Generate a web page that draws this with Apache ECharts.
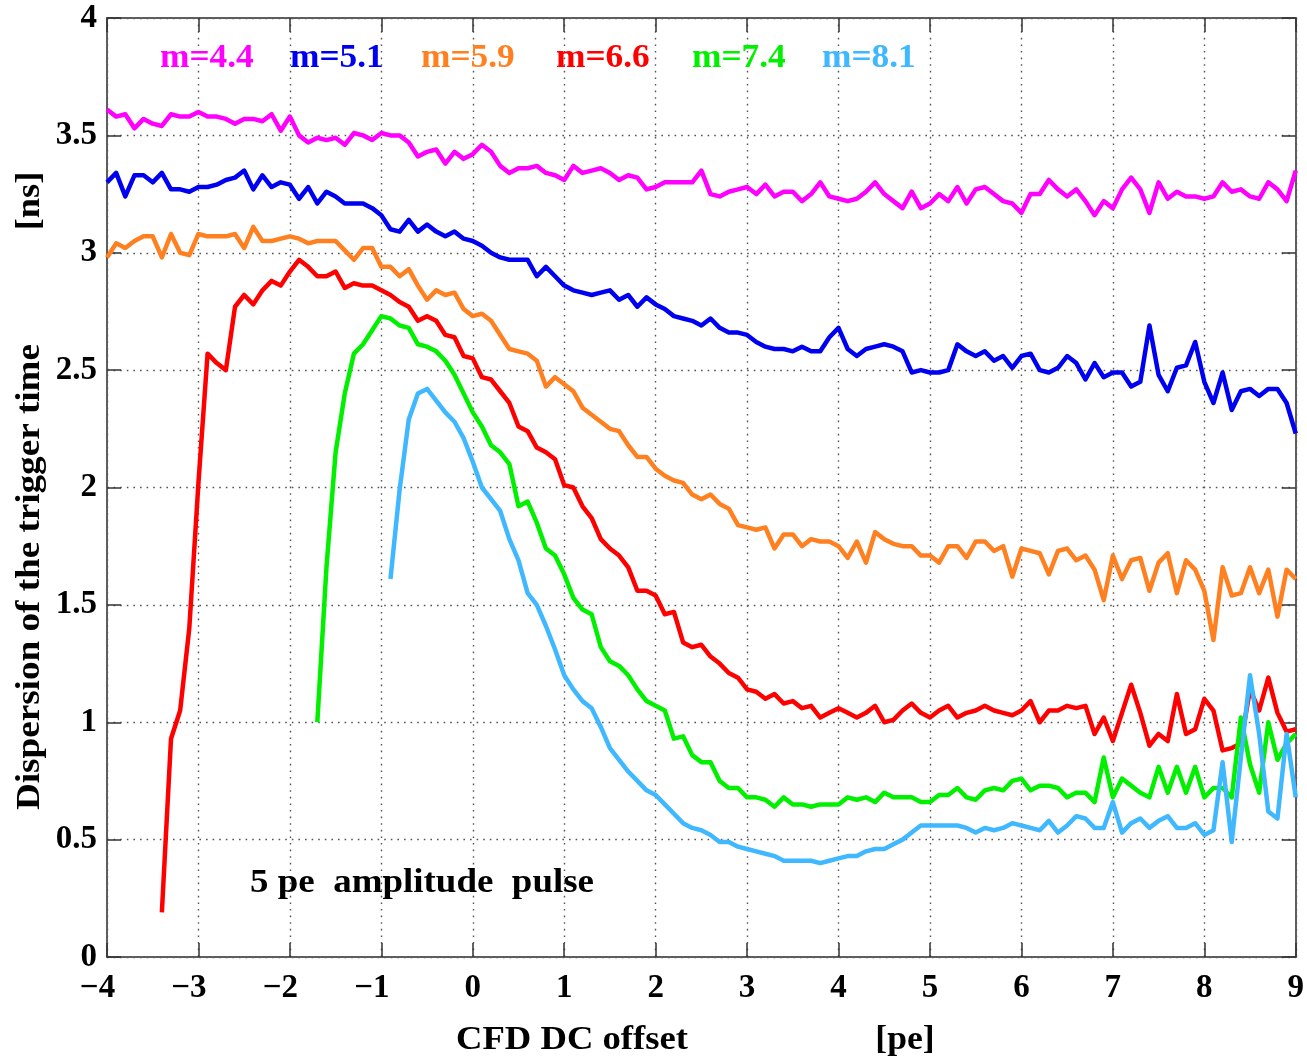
<!DOCTYPE html>
<html>
<head>
<meta charset="utf-8">
<script src="https://cdn.jsdelivr.net/npm/echarts@6/dist/echarts.min.js"></script>
<style>
  html, body { margin: 0; padding: 0; background: #fff; }
  #chart { width: 1307px; height: 1060px; }
</style>
</head>
<body>
<div id="chart"></div>
<script>
// CFD DC offset sampled every 0.1 pe; each curve starts at its own offset.
const STEP = 0.1;

const m44Start = -4.0;
const m44 = [
  3.61,3.58,3.59,3.53,3.57,3.55,3.54,3.59,3.58,3.58,
  3.60,3.58,3.58,3.57,3.55,3.57,3.57,3.56,3.59,3.52,
  3.58,3.50,3.47,3.49,3.48,3.49,3.46,3.51,3.50,3.48,
  3.51,3.50,3.50,3.47,3.41,3.43,3.44,3.38,3.43,3.40,
  3.42,3.46,3.43,3.37,3.34,3.36,3.36,3.37,3.34,3.33,
  3.31,3.37,3.34,3.35,3.36,3.34,3.31,3.33,3.32,3.27,
  3.28,3.30,3.30,3.30,3.30,3.35,3.25,3.24,3.26,3.27,
  3.28,3.25,3.29,3.24,3.26,3.26,3.22,3.25,3.30,3.24,
  3.23,3.22,3.23,3.26,3.30,3.25,3.22,3.19,3.26,3.19,
  3.21,3.25,3.22,3.28,3.21,3.27,3.28,3.25,3.22,3.21,
  3.17,3.25,3.25,3.31,3.27,3.24,3.27,3.22,3.16,3.22,
  3.19,3.27,3.32,3.27,3.17,3.30,3.23,3.26,3.24,3.24,
  3.23,3.24,3.30,3.26,3.27,3.24,3.23,3.30,3.27,3.22,
  3.35
];

const m51Start = -4.0;
const m51 = [
  3.30,3.34,3.24,3.33,3.33,3.30,3.34,3.27,3.27,3.26,
  3.28,3.28,3.29,3.31,3.32,3.35,3.27,3.33,3.28,3.30,
  3.29,3.23,3.28,3.21,3.26,3.24,3.21,3.21,3.21,3.19,
  3.16,3.10,3.09,3.14,3.09,3.12,3.09,3.07,3.09,3.06,
  3.05,3.03,3.00,2.98,2.97,2.97,2.97,2.90,2.94,2.90,
  2.86,2.84,2.83,2.82,2.83,2.84,2.80,2.82,2.77,2.81,
  2.78,2.76,2.73,2.72,2.71,2.69,2.72,2.68,2.66,2.66,
  2.65,2.62,2.60,2.59,2.59,2.58,2.60,2.58,2.58,2.64,
  2.68,2.59,2.56,2.59,2.60,2.61,2.60,2.58,2.49,2.50,
  2.49,2.49,2.50,2.61,2.58,2.56,2.58,2.54,2.56,2.51,
  2.56,2.57,2.50,2.49,2.51,2.56,2.53,2.46,2.53,2.47,
  2.49,2.49,2.43,2.45,2.69,2.48,2.41,2.51,2.52,2.62,
  2.45,2.36,2.49,2.33,2.41,2.42,2.39,2.42,2.42,2.36,
  2.23
];

const m59Start = -4.0;
const m59 = [
  2.98,3.04,3.02,3.05,3.07,3.07,2.98,3.08,3.00,2.99,
  3.08,3.07,3.07,3.07,3.08,3.02,3.11,3.05,3.05,3.06,
  3.07,3.06,3.04,3.05,3.05,3.05,3.01,2.97,3.02,3.02,
  2.94,2.94,2.90,2.93,2.86,2.80,2.84,2.82,2.83,2.76,
  2.73,2.74,2.71,2.65,2.59,2.58,2.57,2.54,2.43,2.47,
  2.44,2.41,2.34,2.31,2.28,2.25,2.24,2.18,2.13,2.13,
  2.08,2.05,2.03,2.02,1.97,1.95,1.97,1.93,1.91,1.84,
  1.83,1.82,1.83,1.74,1.80,1.80,1.75,1.78,1.77,1.77,
  1.75,1.70,1.77,1.68,1.81,1.78,1.76,1.75,1.75,1.71,
  1.71,1.68,1.75,1.75,1.70,1.77,1.77,1.73,1.75,1.62,
  1.74,1.73,1.72,1.63,1.73,1.74,1.69,1.71,1.65,1.52,
  1.71,1.61,1.69,1.70,1.56,1.68,1.72,1.55,1.69,1.65,
  1.56,1.35,1.66,1.54,1.55,1.66,1.55,1.65,1.45,1.65,
  1.61
];

const m66Start = -3.4;
const m66 = [
  0.19,0.93,1.05,1.40,2.02,2.57,2.53,2.50,2.77,2.82,
  2.78,2.84,2.88,2.86,2.92,2.97,2.94,2.90,2.90,2.92,
  2.85,2.87,2.86,2.86,2.84,2.82,2.79,2.77,2.71,2.73,
  2.71,2.65,2.64,2.56,2.55,2.47,2.46,2.41,2.36,2.26,
  2.24,2.17,2.15,2.12,2.01,2.00,1.92,1.87,1.78,1.74,
  1.71,1.66,1.56,1.56,1.54,1.46,1.47,1.34,1.32,1.33,
  1.28,1.25,1.21,1.19,1.14,1.13,1.10,1.12,1.08,1.09,
  1.06,1.07,1.02,1.04,1.06,1.04,1.02,1.04,1.07,1.00,
  1.01,1.05,1.08,1.04,1.02,1.05,1.07,1.02,1.04,1.05,
  1.07,1.05,1.04,1.03,1.05,1.09,1.00,1.05,1.05,1.07,
  1.06,1.07,0.95,1.02,0.92,1.04,1.16,1.04,0.90,0.95,
  0.92,1.12,0.95,0.97,1.10,1.05,0.88,0.89,0.91,1.14,
  1.05,1.19,1.04,0.96,0.97
];

const m74Start = -1.7;
const m74 = [
  1.00,1.66,2.15,2.40,2.57,2.61,2.67,2.73,2.72,2.69,
  2.68,2.61,2.60,2.58,2.54,2.48,2.40,2.32,2.26,2.18,
  2.15,2.10,1.92,1.94,1.85,1.74,1.71,1.63,1.53,1.48,
  1.46,1.32,1.26,1.24,1.20,1.14,1.09,1.07,1.05,0.93,
  0.94,0.86,0.83,0.83,0.75,0.72,0.72,0.68,0.68,0.67,
  0.64,0.68,0.65,0.65,0.64,0.65,0.65,0.65,0.68,0.67,
  0.68,0.66,0.70,0.68,0.68,0.68,0.66,0.66,0.69,0.69,
  0.72,0.68,0.67,0.71,0.72,0.71,0.75,0.76,0.71,0.73,
  0.73,0.72,0.68,0.70,0.70,0.66,0.85,0.68,0.76,0.73,
  0.70,0.68,0.81,0.70,0.81,0.70,0.81,0.68,0.72,0.72,
  0.68,1.02,0.82,0.70,1.00,0.84,0.91,0.95
];

const m81Start = -0.9;
const m81 = [
  1.61,1.99,2.29,2.40,2.42,2.37,2.32,2.28,2.21,2.11,
  2.00,1.95,1.90,1.78,1.69,1.55,1.50,1.41,1.31,1.20,
  1.14,1.09,1.06,0.98,0.89,0.84,0.79,0.75,0.71,0.69,
  0.65,0.61,0.57,0.55,0.54,0.52,0.49,0.49,0.47,0.46,
  0.45,0.44,0.43,0.41,0.41,0.41,0.41,0.40,0.41,0.42,
  0.43,0.43,0.45,0.46,0.46,0.48,0.50,0.53,0.56,0.56,
  0.56,0.56,0.56,0.55,0.53,0.55,0.54,0.55,0.57,0.56,
  0.55,0.54,0.58,0.53,0.56,0.60,0.59,0.55,0.55,0.66,
  0.53,0.57,0.59,0.55,0.58,0.60,0.55,0.55,0.57,0.52,
  0.54,0.83,0.49,0.85,1.20,0.95,0.62,0.59,0.95,0.68
];

const curves = [
  { name: 'm=4.4', start: m44Start, values: m44, color: '#ff00ff' },
  { name: 'm=5.1', start: m51Start, values: m51, color: '#0000f0' },
  { name: 'm=5.9', start: m59Start, values: m59, color: '#ff8020' },
  { name: 'm=6.6', start: m66Start, values: m66, color: '#ff0000' },
  { name: 'm=7.4', start: m74Start, values: m74, color: '#00f000' },
  { name: 'm=8.1', start: m81Start, values: m81, color: '#40b8ff' }
];

// Legend label positions along the top of the plot
const legendX = [160, 290, 421, 556, 692, 822];

const xTicks = [-4, 9, 1];
const yTicks = [0, 4, 0.5];

const FONT = '"Liberation Serif", "Times New Roman", "DejaVu Serif", serif';
const frameColor = '#5e5e5e';
const gridDots = { type: [1.6, 5], color: '#555', width: 1.4 };

function toPairs(c) {
  return c.values.map((v, i) => [+(c.start + i * STEP).toFixed(2), v]);
}

// Negative labels keep their digit centred on the tick, the minus hangs left.
function xLabel(v) {
  return v < 0 ? '{t|\u2212' + Math.abs(v) + '}{pad| }' : '{t|' + v + '}';
}

const chart = echarts.init(document.getElementById('chart'), null, { renderer: 'canvas' });

const labelStyle = { fontFamily: FONT, fontWeight: 'bold', fontSize: 33, color: '#000' };

const option = {
  backgroundColor: '#fff',
  animation: false,
  grid: { left: 107, right: 10, top: 18, bottom: 103, containLabel: false },
  xAxis: [
    {
      type: 'value', min: xTicks[0], max: xTicks[1], interval: xTicks[2], position: 'bottom',
      axisLine: { show: true, onZero: false, lineStyle: { color: frameColor, width: 2 } },
      axisTick: { show: true, inside: true, length: 14, lineStyle: { color: '#333', width: 1.5 } },
      axisLabel: Object.assign({
        margin: 15, formatter: xLabel,
        rich: {
          t: { fontFamily: FONT, fontWeight: 'bold', fontSize: 33, color: '#000' },
          pad: { width: 19, fontSize: 33 }
        }
      }, labelStyle),
      splitLine: { show: true, lineStyle: gridDots }
    },
    {
      type: 'value', min: xTicks[0], max: xTicks[1], interval: xTicks[2], position: 'top',
      axisLine: { show: true, onZero: false, lineStyle: { color: frameColor, width: 2 } },
      axisTick: { show: true, inside: true, length: 14, lineStyle: { color: '#333', width: 1.5 } },
      axisLabel: { show: false },
      splitLine: { show: false }
    }
  ],
  yAxis: [
    {
      type: 'value', min: yTicks[0], max: yTicks[1], interval: yTicks[2], position: 'left',
      axisLine: { show: true, onZero: false, lineStyle: { color: frameColor, width: 2 } },
      axisTick: { show: true, inside: true, length: 14, lineStyle: { color: '#333', width: 1.5 } },
      axisLabel: Object.assign({ margin: 10 }, labelStyle),
      splitLine: { show: true, lineStyle: gridDots }
    },
    {
      type: 'value', min: yTicks[0], max: yTicks[1], interval: yTicks[2], position: 'right',
      axisLine: { show: true, onZero: false, lineStyle: { color: frameColor, width: 2 } },
      axisTick: { show: true, inside: true, length: 14, lineStyle: { color: '#333', width: 1.5 } },
      axisLabel: { show: false },
      splitLine: { show: false }
    }
  ],
  series: curves.map(c => ({
    name: c.name,
    type: 'line',
    xAxisIndex: 0,
    yAxisIndex: 0,
    data: toPairs(c),
    showSymbol: false,
    symbol: 'none',
    lineStyle: { color: c.color, width: 4.5, join: 'round' },
    itemStyle: { color: c.color }
  })),
  graphic: [
    ...curves.map((c, i) => ({
      type: 'text', x: legendX[i], y: 58, scaleX: 1.04, z: 10,
      style: { text: c.name, fill: c.color, font: 'bold 34px ' + FONT,
               textAlign: 'left', textVerticalAlign: 'middle' }
    })),
    {
      type: 'text', x: 30, y: 577, rotation: Math.PI / 2, scaleX: 1.125, z: 10,
      style: { text: 'Dispersion of the trigger time', fill: '#000', font: 'bold 33px ' + FONT,
               textAlign: 'center', textVerticalAlign: 'middle' }
    },
    {
      type: 'text', x: 30, y: 201, rotation: Math.PI / 2, scaleX: 1.1, z: 10,
      style: { text: '[ns]', fill: '#000', font: 'bold 33px ' + FONT,
               textAlign: 'center', textVerticalAlign: 'middle' }
    },
    {
      type: 'text', x: 572, y: 1040, scaleX: 1.11, z: 10,
      style: { text: 'CFD DC offset', fill: '#000', font: 'bold 33px ' + FONT,
               textAlign: 'center', textVerticalAlign: 'middle' }
    },
    {
      type: 'text', x: 905, y: 1040, scaleX: 1.08, z: 10,
      style: { text: '[pe]', fill: '#000', font: 'bold 33px ' + FONT,
               textAlign: 'center', textVerticalAlign: 'middle' }
    },
    {
      type: 'text', x: 250, y: 883, scaleX: 1.12, z: 10,
      style: { text: '5 pe  amplitude  pulse', fill: '#000', font: 'bold 33px ' + FONT,
               textAlign: 'left', textVerticalAlign: 'middle' }
    }
  ]
};

chart.setOption(option);
</script>
</body>
</html>
